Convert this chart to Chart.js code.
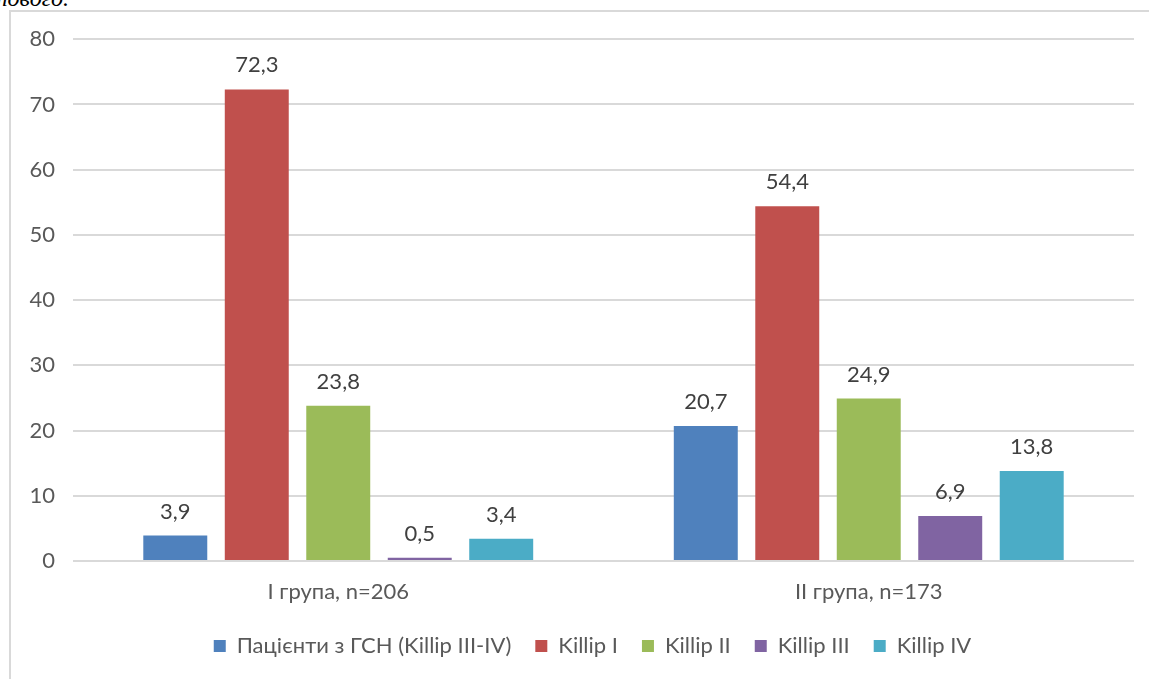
<!DOCTYPE html>
<html>
<head>
<meta charset="utf-8">
<script src="https://cdn.jsdelivr.net/npm/chart.js@4/dist/chart.umd.min.js"></script>
<style>
  html, body { margin: 0; padding: 0; background: #fff; width: 1149px; height: 679px; overflow: hidden; }
  .caption {
    position: absolute; left: -62px; top: -14px; width: 131px; text-align: right;
    font-family: "Liberation Serif", serif; font-style: italic; font-size: 24px; line-height: 24px; color: #000;
    white-space: nowrap;
  }
  .frame {
    position: absolute; left: 9px; top: 10px; width: 1150px; height: 680px;
    border-left: 2px solid #d9d9d9; border-top: 2px solid #d9d9d9; box-sizing: border-box;
  }
  #wrap { position: absolute; left: 11px; top: 8px; width: 1138px; height: 671px; }
</style>
</head>
<body>
<div class="caption">оптового.</div>
<div class="frame"></div>
<div id="wrap"><canvas id="c"></canvas></div>
<script>
const categories = ["I група, n=206", "II група, n=173"];
const seriesNames = ["Пацієнти з ГСН (Killip III-IV)", "Killip I", "Killip II", "Killip III", "Killip IV"];
const gsn      = [3.9, 20.7];
const killip1  = [72.3, 54.4];
const killip2  = [23.8, 24.9];
const killip3  = [0.5, 6.9];
const killip4  = [3.4, 13.8];
const seriesColors = ["#4F81BD", "#C0504D", "#9BBB59", "#8064A2", "#4BACC6"];
const yTicks = [0, 10, 20, 30, 40, 50, 60, 70, 80];

const FONT = "Lato, 'Open Sans', sans-serif";
const FS = 22;
const seriesValues = [gsn, killip1, killip2, killip3, killip4];

// Writes each bar's value above it, with a decimal comma
const valueLabels = {
  id: "valueLabels",
  afterDatasetsDraw(chart) {
    const ctx = chart.ctx;
    ctx.save();
    ctx.font = FS + "px " + FONT;
    ctx.fillStyle = "#404040";
    ctx.textAlign = "center";
    ctx.textBaseline = "alphabetic";
    chart.data.datasets.forEach((ds, i) => {
      chart.getDatasetMeta(i).data.forEach((bar, j) => {
        const v = ds.data[j];
        ctx.fillText(String(v).replace(".", ","), bar.x, bar.y - 17);
      });
    });
    ctx.restore();
  }
};

// Centres the legend under the plot area rather than under the whole canvas
const legendUnderPlot = {
  id: "legendUnderPlot",
  afterLayout(chart) {
    const lg = chart.legend;
    if (!lg) return;
    const shift = 20;
    lg.left += shift;
    lg.right += shift;
  }
};

new Chart(document.getElementById("c"), {
  type: "bar",
  data: {
    labels: categories,
    datasets: seriesNames.map((name, i) => ({
      label: name,
      data: seriesValues[i],
      backgroundColor: seriesColors[i],
      borderWidth: 0,
      categoryPercentage: 0.768,
      barPercentage: 0.785
    }))
  },
  options: {
    responsive: true,
    maintainAspectRatio: false,
    animation: false,
    layout: { padding: { top: 8, right: 15, bottom: 12, left: 0 } },
    plugins: {
      legend: {
        position: "bottom",
        labels: {
          font: { family: FONT, size: FS },
          color: "#595959",
          boxWidth: 12, boxHeight: 12,
          padding: 24
        }
      },
      tooltip: { enabled: false }
    },
    scales: {
      x: {
        afterFit(scale) { scale.height = 50; },
        grid: { display: false, drawTicks: false },
        border: { display: false },
        ticks: { font: { family: FONT, size: FS }, color: "#595959", padding: 18 }
      },
      y: {
        min: 0, max: 80,
        afterBuildTicks(scale) { scale.ticks = yTicks.map(v => ({ value: v })); },
        afterFit(scale) { scale.width = 62; },
        grid: { color: "#d9d9d9", lineWidth: 2, drawTicks: false },
        border: { display: false },
        ticks: { font: { family: FONT, size: FS }, color: "#595959", padding: 18 }
      }
    }
  },
  plugins: [valueLabels, legendUnderPlot]
});
</script>
</body>
</html>
